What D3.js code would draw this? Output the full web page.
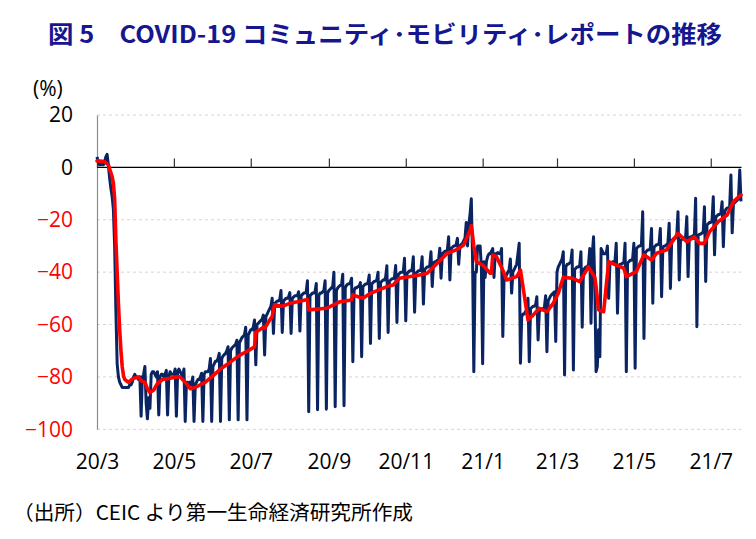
<!DOCTYPE html>
<html><head><meta charset="utf-8">
<script src="https://cdn.jsdelivr.net/npm/d3@7"></script>
<style>
html,body{margin:0;padding:0;background:#fff;}
svg{display:block;}
</style></head><body>
<svg id="chart" width="756" height="539"></svg>
<script>
// ---------- DATA ----------
const startDate = "2020-03-01";
const endDate = "2021-07-25";
// daily mobility (%), one week (Sun..Sat) per row
const dailyMobility = [
 4, 2, 1, 1, 2, 1, 2,
 4, 5, 1, -4, -8, -11, -16,
 -30, -55, -75, -80, -82, -83, -84,
 -84, -84, -84, -84, -84, -83, -83,
 -82, -80, -79, -80, -80, -81, -80,
 -95, -80, -79, -76, -90, -96, -88,
 -92, -79, -78, -78, -79, -80, -78,
 -94.5, -80, -79, -79, -80, -79, -77.5,
 -94.5, -80, -78, -79, -79, -79, -77,
 -95, -78, -77, -78, -79, -80, -77,
 -97, -82, -82, -83, -82, -83, -80,
 -97, -83, -82, -81, -81, -80, -78.6,
 -97, -79, -78, -78, -78, -77, -73,
 -97, -76, -75, -74, -74, -73, -71,
 -97, -73, -72, -71.5, -71, -70, -68.5,
 -96.4, -70, -69, -68.5, -68, -67.5, -66,
 -96.4, -67, -66, -65, -64.5, -64, -61,
 -96.4, -64, -63, -62, -62, -61, -58.3,
 -75.4, -60, -59.5, -59, -58.5, -58, -56.4,
 -71.6, -57, -56, -55, -54, -53, -50,
 -63.4, -52, -51.5, -51, -51, -50.5, -47,
 -63, -51, -50.5, -50, -50, -49.5, -47.8,
 -63.4, -50, -49.5, -49, -49, -49, -47.5,
 -62.5, -49, -48.5, -48, -48, -47.5, -43.3,
 -93.3, -49, -48.5, -48, -48, -47.5, -44.3,
 -92.5, -49, -48, -48, -47.5, -47, -43.3,
 -92.3, -48, -47, -46.5, -46, -45.5, -40,
 -91.4, -47, -46, -45.5, -45, -45, -40.8,
 -91, -46, -45, -44.5, -44.5, -44, -42.3,
 -74.2, -47, -46, -46, -45.5, -45.5, -44,
 -72.3, -45.5, -45, -44.5, -44.5, -44, -41.1,
 -67.2, -44.5, -44, -43.5, -43.5, -43, -40,
 -65.3, -44, -43.5, -43, -43, -42, -37.6,
 -63, -43.5, -43, -42.5, -42.5, -42, -37.5,
 -59.2, -41, -40.5, -40, -40, -40, -34.7,
 -58.6, -40.5, -40, -39.5, -39.5, -39, -34.1,
 -55.3, -40.5, -40, -39.5, -39.5, -39, -34.1,
 -52.2, -39, -38.5, -38, -38, -37.5, -32.2,
 -45.5, -36.5, -36, -36, -35.5, -35.5, -30.9,
 -42.3, -33, -32.5, -32, -32, -31.5, -26.5,
 -43, -31, -30.5, -30, -30, -29.5, -27.1,
 -37, -30, -29.5, -29, -28, -27, -21,
 -30, -22, -18, -12, -35, -78, -40,
 -40, -30, -30, -30, -38, -75, -36,
 -42, -36, -34, -33, -33, -32, -31,
 -42, -33, -33, -32.5, -33, -33, -31,
 -64.6, -42, -42, -41, -40, -39, -35,
 -48, -40, -39, -38, -37, -33, -29,
 -74.8, -57, -56, -56, -55, -55, -50,
 -74.2, -54, -53.5, -53, -53, -52.5, -49.4,
 -65.9, -55, -54.5, -54, -54, -53.5, -49,
 -70.4, -51, -50, -49, -48.5, -48, -47.5,
 -66.5, -40, -38, -37, -36, -35, -32.2,
 -79.3, -38, -37, -37, -36.5, -36, -31.5,
 -77.4, -39, -38.5, -38, -38, -37.5, -32.2,
 -61, -39, -38.5, -38, -38, -37, -31,
 -59.5, -33, -26.5, -45, -78, -76, -62,
 -72.3, -31, -32, -33, -33, -33, -30,
 -50, -37, -36.5, -36, -36, -36, -29,
 -55.7, -37.5, -37, -37, -36.5, -36.5, -29,
 -78, -36.5, -36, -35.5, -35.5, -35, -29,
 -76.7, -31, -30.5, -30, -30, -29.5, -16.9,
 -65.3, -32.5, -32, -31.5, -31.5, -31, -23.3,
 -51.9, -30.5, -30, -29.5, -29.5, -29, -23.3,
 -49.4, -30.5, -30, -30, -29.5, -29, -21.3,
 -46.2, -28, -27.5, -27, -27, -26.5, -16.9,
 -43, -28, -27.5, -27, -27, -27, -18.8,
 -41.7, -27, -26.5, -26.5, -26, -26, -11.8,
 -60.8, -26, -25.5, -25.5, -25, -25, -15,
 -43.6, -22, -21.5, -21, -21, -20.5, -11.2,
 -33.4, -19, -18.5, -18, -18, -17.5, -13.1,
 -30.3, -17, -16, -15.5, -15.5, -15, -2.9,
 -25, -14, -13.5, -13, -12.5, -12, -1,
 -13
];
// 7-day average line, read at its vertices (day index since startDate, value %)
const avgDayIndex = [0,6,9,10,12,13,14,15,16,17,18,19,20,21,22,25,29,33,35,38,40,42,45,48,52,58,63,66,70,74,78,82,86,91,98,104,108,113,118,121,125,126,132,133,137,139,140,141,147,153,159,167,168,182,193,202,203,211,217,230,235,240,256,262,270,278,285,291,296,297,298,299,301,306,312,313,314,317,322,325,333,336,342,346,351,357,362,366,370,377,383,390,395,396,398,402,406,412,418,420,428,434,440,444,452,461,468,474,478,482,486,493,500,505,511];
const avgValues = [2.5,2.2,1,-0.5,-3.5,-6,-12,-28,-40,-52,-62,-70,-76,-79.5,-81,-82,-80.5,-80,-81.5,-82,-84.5,-86,-85,-82.5,-81,-80.5,-80,-80,-82,-84.5,-84,-83,-82,-80,-77,-75,-73.5,-71.8,-70.5,-69.7,-68.5,-63,-61,-61.5,-58.3,-57,-54,-52.5,-53,-51.9,-51.3,-50.4,-54.4,-53.8,-51.3,-50.6,-48.7,-50,-48.1,-45.5,-44.9,-42.3,-41.1,-40.4,-36.6,-32.8,-31.5,-29.6,-24,-22.3,-26,-30,-36,-37.3,-40.4,-40.4,-33.5,-34.1,-39.2,-43,-41.7,-39.2,-58.3,-56.4,-53.8,-55.1,-51.9,-48.1,-42,-42.3,-43.6,-38,-42,-45.5,-54.4,-55.1,-36,-37.3,-38.5,-41.7,-39.8,-33.4,-35.4,-32.8,-31.5,-25.2,-28.4,-26.5,-29,-29,-24.6,-20.7,-18.2,-13.1,-10.5];

const yTickValues = [20, 0, -20, -40, -60, -80, -100];
const xTickDates = ["2020-03-01","2020-05-01","2020-07-01","2020-09-01","2020-11-01","2021-01-01","2021-03-01","2021-05-01","2021-07-01"];
const xTickLabels = ["20/3","20/5","20/7","20/9","20/11","21/1","21/3","21/5","21/7"];

const titleText = "図 5　COVID-19 コミュニティ･モビリティ･レポートの推移";
const sourceText = "（出所）CEIC より第一生命経済研究所作成";
const unitText = "(%)";

// ---------- CHART ----------
const parse = d3.utcParse("%Y-%m-%d");
const t0 = parse(startDate);
const dailyData = dailyMobility.map((v, i) => ({date: d3.utcDay.offset(t0, i), value: v}));
const avgData = avgDayIndex.map((d, i) => ({date: d3.utcDay.offset(t0, d), value: avgValues[i]}));
const tickDates = xTickDates.map(parse);

const svg = d3.select("#chart");
const plotL = 97, plotR = 741.5, plotT = 115, plotB = 429.3;
const x = d3.scaleUtc().domain([t0, parse(endDate)]).range([plotL, 741]);
const y = d3.scaleLinear().domain([-100, 20]).range([plotB, plotT]);

const axisFont = "'Open Sans', 'Liberation Sans', sans-serif";
const cjkFont = "'Noto Sans CJK JP', 'Noto Sans', sans-serif";

// title
svg.append("text")
  .attr("x", 48).attr("y", 32)
  .attr("dominant-baseline", "central")
  .attr("textLength", 674).attr("lengthAdjust", "spacingAndGlyphs")
  .style("font-family", cjkFont).style("font-weight", "bold")
  .style("font-size", "24px").style("fill", "#16168f")
  .text(titleText);

// unit
svg.append("text")
  .attr("x", 33).attr("y", 88)
  .attr("dominant-baseline", "central")
  .style("font-family", axisFont).style("font-size", "21px").style("fill", "#000")
  .text(unitText);

// gridlines
svg.append("g").selectAll("line")
  .data(yTickValues.filter(v => v !== 0))
  .join("line")
  .attr("x1", plotL).attr("x2", plotR)
  .attr("y1", d => y(d)).attr("y2", d => y(d))
  .attr("stroke", "#d4d4d4").attr("stroke-width", 1)
  .attr("stroke-dasharray", "3,3");

// y axis
const yAxis = svg.append("g").attr("transform", `translate(${plotL},0)`)
  .call(d3.axisLeft(y).tickValues(yTickValues).tickSize(0).tickPadding(24).tickFormat(d3.format("d")));
yAxis.select(".domain").attr("stroke", "#8c8c8c").attr("stroke-width", 1.2);
yAxis.selectAll("text")
  .style("font-family", axisFont).style("font-size", "21px")
  .style("fill", d => d < 0 ? "#ff0000" : "#000");

// zero line with upward ticks
const zeroAxis = svg.append("g").attr("transform", `translate(0,${y(0)})`)
  .call(d3.axisTop(x).tickValues(tickDates).tickSize(9).tickSizeOuter(0).tickFormat(""));
zeroAxis.select(".domain").attr("stroke", "#000").attr("stroke-width", 1.2)
  .attr("d", `M${plotL},0H${plotR}`);
zeroAxis.selectAll(".tick line").attr("stroke", "#333").attr("stroke-width", 1.2);

// x labels
const xAxis = svg.append("g").attr("transform", `translate(0,${plotB})`)
  .call(d3.axisBottom(x).tickValues(tickDates).tickSize(0).tickPadding(24.7)
    .tickFormat((d, i) => xTickLabels[i]));
xAxis.select(".domain").remove();
xAxis.selectAll("text").style("font-family", axisFont).style("font-size", "21px").style("fill", "#000");

// daily line
svg.append("path").datum(dailyData)
  .attr("fill", "none").attr("stroke", "#0a2462").attr("stroke-width", 3)
  .attr("stroke-linejoin", "round")
  .attr("d", d3.line().x(d => x(d.date)).y(d => y(d.value)));

// 7-day average
svg.append("path").datum(avgData)
  .attr("fill", "none").attr("stroke", "#ff0000").attr("stroke-width", 3.6)
  .attr("stroke-linejoin", "round").attr("stroke-linecap", "round")
  .attr("d", d3.line().x(d => x(d.date)).y(d => y(d.value)));

// source
svg.append("text")
  .attr("x", 13).attr("y", 511)
  .attr("dominant-baseline", "central")
  .attr("textLength", 400).attr("lengthAdjust", "spacingAndGlyphs")
  .style("font-family", cjkFont).style("font-size", "20px").style("fill", "#000")
  .text(sourceText);
</script>
</body></html>
